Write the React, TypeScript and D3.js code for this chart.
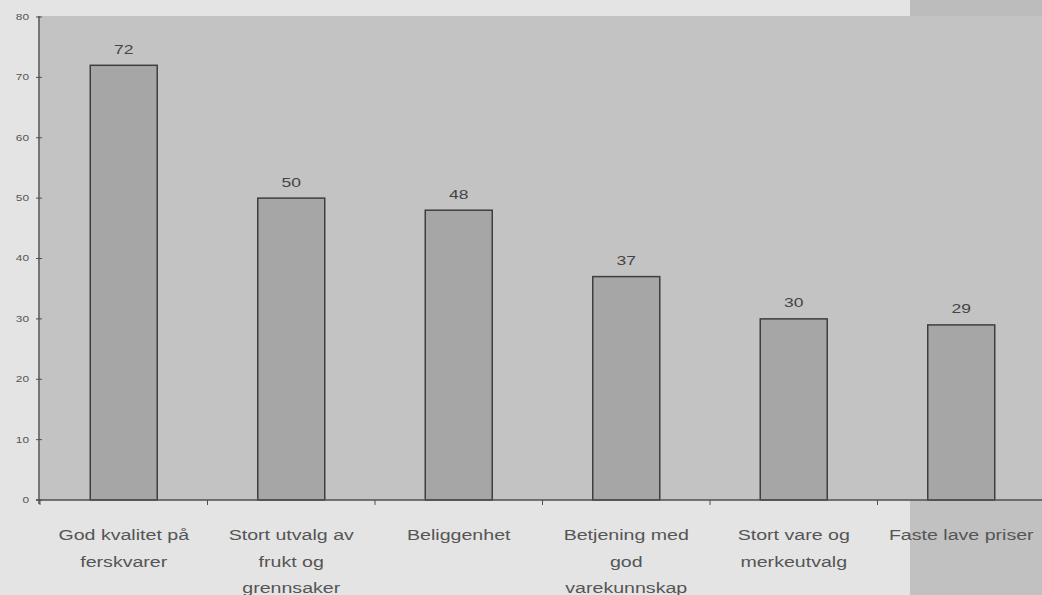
import React from "react";
import * as d3 from "d3";

// Survey: reasons for choosing a grocery store (percent)
const categories: string[] = [
  "God kvalitet på ferskvarer",
  "Stort utvalg av frukt og grennsaker",
  "Beliggenhet",
  "Betjening med god varekunnskap",
  "Stort vare og merkeutvalg",
  "Faste lave priser",
];
const categoryLines: string[][] = [
  ["God kvalitet på", "ferskvarer"],
  ["Stort utvalg av", "frukt og", "grennsaker"],
  ["Beliggenhet"],
  ["Betjening med", "god", "varekunnskap"],
  ["Stort vare og", "merkeutvalg"],
  ["Faste lave priser"],
];
const values: number[] = [72, 50, 48, 37, 30, 29];
const yTicks: number[] = [0, 10, 20, 30, 40, 50, 60, 70, 80];

const W = 1042;
const H = 595;
const plotLeft = 40;
const plotTop = 17;
const plotBottom = 500;
const plotRight = 1045;
const stripX = 910;
const SX = 1.4; // horizontal text stretch

export default function App() {
  const x = d3
    .scaleBand<string>()
    .domain(categories)
    .range([plotLeft, plotRight])
    .paddingInner(0.6)
    .paddingOuter(0.3);
  const y = d3.scaleLinear().domain([0, 80]).range([plotBottom, plotTop]);
  const step = x.step();
  const bandEdges = d3.range(categories.length + 1).map((i) => plotLeft + i * step);

  return (
    <svg
      width={W}
      height={H}
      style={{ position: "absolute", left: 0, top: 0, display: "block" }}
      fontFamily="'Liberation Sans', Arial, sans-serif"
    >
      {/* backgrounds */}
      <rect x={0} y={0} width={W} height={H} fill="#e4e4e4" />
      <rect x={stripX} y={0} width={W - stripX} height={H} fill="#c1c1c1" />
      <rect x={stripX} y={0} width={W - stripX} height={plotTop - 1} fill="#bcbcbc" />
      <rect
        x={plotLeft}
        y={plotTop - 1}
        width={W - plotLeft}
        height={plotBottom - plotTop + 1}
        fill="#c3c3c3"
      />

      {/* bars */}
      {categories.map((c, i) => (
        <rect
          key={c}
          x={x(c)}
          y={y(values[i])}
          width={x.bandwidth()}
          height={y(0) - y(values[i])}
          fill="#a6a6a6"
          stroke="#3e3e3e"
          strokeWidth={1.5}
        />
      ))}

      {/* value labels */}
      {categories.map((c, i) => (
        <text
          key={c}
          transform={`translate(${(x(c) as number) + x.bandwidth() / 2},${y(values[i]) - 11.5}) scale(${SX},1)`}
          textAnchor="middle"
          fontSize={12.5}
          fill="#444"
        >
          {values[i]}
        </text>
      ))}

      {/* y axis */}
      <line x1={plotLeft - 1} x2={plotLeft - 1} y1={plotTop - 1} y2={plotBottom + 4} stroke="#505050" strokeWidth={1.5} />
      {yTicks.map((t) => (
        <g key={t}>
          <line x1={plotLeft - 4} x2={plotLeft + 2} y1={y(t)} y2={y(t)} stroke="#505050" strokeWidth={1} />
          <text
            transform={`translate(${plotLeft - 11},${y(t)}) scale(${SX},1)`}
            textAnchor="end"
            dy="0.35em"
            fontSize={8.5}
            fill="#555"
          >
            {t}
          </text>
        </g>
      ))}

      {/* x axis */}
      <line x1={plotLeft - 4} x2={W} y1={plotBottom} y2={plotBottom} stroke="#505050" strokeWidth={1.5} />
      {bandEdges.map((bx, i) => (
        <line key={i} x1={bx} x2={bx} y1={plotBottom} y2={plotBottom + 5} stroke="#505050" strokeWidth={1} />
      ))}

      {/* category labels */}
      {categories.map((c, i) =>
        categoryLines[i].map((line, j) => (
          <text
            key={c + j}
            transform={`translate(${(x(c) as number) + x.bandwidth() / 2},${540 + j * 26.5}) scale(${SX},1)`}
            textAnchor="middle"
            fontSize={14}
            fill="#555"
          >
            {line}
          </text>
        ))
      )}
    </svg>
  );
}
